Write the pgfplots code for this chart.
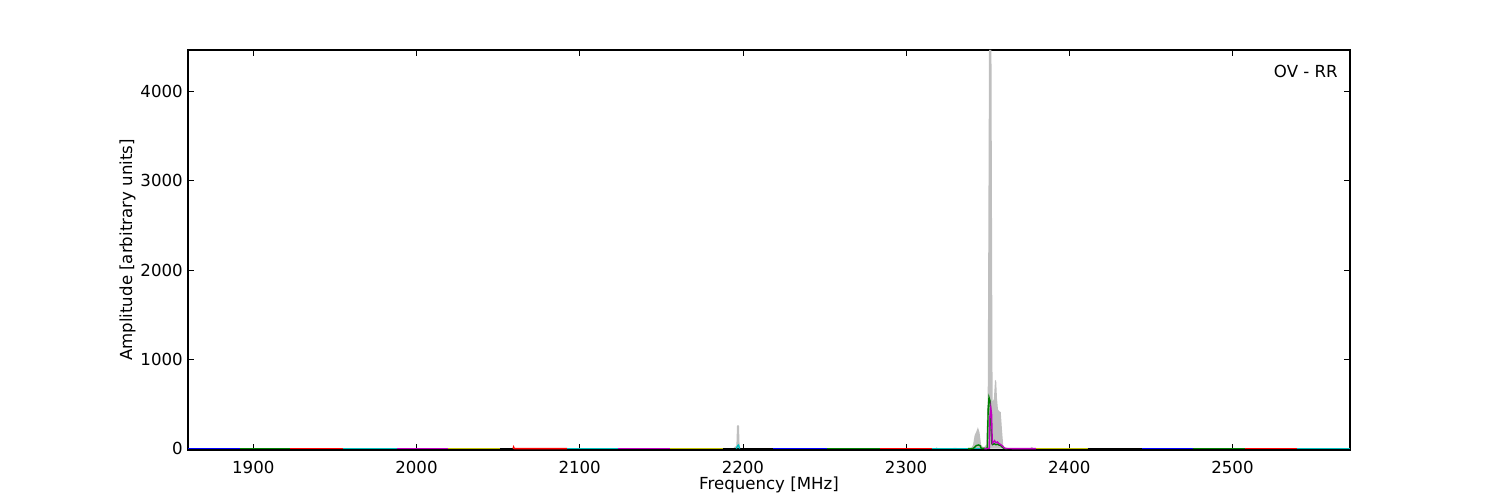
\documentclass[border=0pt]{standalone}
\usepackage{fontspec}
\setmainfont{DejaVu Sans}
\usepackage{pgfplots}
\pgfplotsset{compat=1.18}
\definecolor{mb}{rgb}{0,0,1}
\definecolor{mg}{rgb}{0,0.5,0}
\definecolor{mr}{rgb}{1,0,0}
\definecolor{mc}{rgb}{0,0.75,0.75}
\definecolor{mm}{rgb}{0.75,0,0.75}
\definecolor{my}{rgb}{0.75,0.75,0}
\definecolor{mk}{rgb}{0,0,0}
\definecolor{fillgrey}{rgb}{0.75,0.75,0.75}
\begin{document}
\begin{tikzpicture}[font=\fontsize{12}{14.4}\selectfont]
\path[use as bounding box] (0,0) rectangle (15in,5in);
\begin{axis}[
  at={(1.88in,0.5in)}, anchor=south west,
  scale only axis, width=11.62in, height=4.0in,
  xmin=1860, xmax=2572, ymin=-15, ymax=4465,
  xtick={1900,2000,2100,2200,2300,2400,2500},
  ytick={0,1000,2000,3000,4000},
  /pgf/number format/1000 sep={},
  /pgf/number format/assume math mode=true,
  tick align=inside,
  major tick length=4pt,
  every tick/.style={black, line width=0.5pt},
  axis line style={line width=1pt},
  xticklabel style={anchor=north, inner sep=0pt, yshift=-0.11in},
  yticklabel style={anchor=east, inner sep=0pt, xshift=-0.05in},
  every axis x label/.style={at={(axis description cs:0.5,0)}, anchor=base, inner sep=0pt, yshift=-0.395in},
  every axis y label/.style={at={(axis description cs:0,0.5)}, xshift=-0.56in, rotate=90, anchor=base, inner sep=0pt},
  xlabel={Frequency [MHz]},
  ylabel={Amplitude [arbitrary units]},
  clip=true,
]
% grey envelope
\addplot[fill=fillgrey, draw=none] coordinates {
(1860,0) (2150,0) (2194,0) (2195,20) (2196,30) (2196.4,260) (2197.6,260) (2198,20) (2199,0)
(2318,0) (2318.7,15) (2319.5,3) (2325,5) (2330,8) (2335,5) (2339,5) (2340,10) (2341,40)
(2342,150) (2343,190) (2344,240) (2345,180) (2346,40) (2347,20) (2348,20) (2349,40)
(2350,550) (2350.8,4465) (2352.3,4465) (2353,520) (2353.8,560) (2354.5,770) (2355.2,760)
(2355.7,560) (2356.3,440) (2357,420) (2358,410) (2358.8,200) (2359.5,40) (2360.5,10)
(2362,3) (2370,2) (2376,5) (2377,20) (2378,5) (2380,0) (2572,0)} \closedcycle;
% band baselines
\addplot[mb, line width=1pt] coordinates {(1860.2,0) (1892.0,0)};
\addplot[mg, line width=1pt] coordinates {(1892.0,0) (1922.7,0)};
\addplot[mr, line width=1pt] coordinates {(1922.7,0) (1955.1,0)};
\addplot[mc, line width=1pt] coordinates {(1955.1,0) (1988.2,0)};
\addplot[mm, line width=1pt] coordinates {(1988.2,0) (2019.4,0)};
\addplot[my, line width=1pt] coordinates {(2019.4,0) (2051.3,0)};
\addplot[mk, line width=1pt] coordinates {(2051.3,0) (2059.2,0)};
\addplot[mr, line width=1pt] coordinates {(2059.2,0) (2059.5,18) (2059.9,1) (2092.3,0)};
\addplot[mc, line width=1pt] coordinates {(2092.3,0) (2123.5,0)};
\addplot[mm, line width=1pt] coordinates {(2123.5,0) (2155.4,0)};
\addplot[my, line width=1pt] coordinates {(2155.4,0) (2187.8,0)};
\addplot[mk, line width=1pt] coordinates {(2187.8,0) (2218.4,0)};
\addplot[mb, line width=1pt] coordinates {(2218.4,0) (2251.5,0)};
\addplot[mg, line width=1pt] coordinates {(2251.5,0) (2284.0,0)};
\addplot[mr, line width=1pt] coordinates {(2284.0,0) (2315.8,0)};
\addplot[mc, line width=1pt] coordinates {(2315.8,0) (2348,0)};
\addplot[my, line width=1pt] coordinates {(2379.5,0) (2411.3,0)};
\addplot[mk, line width=1pt] coordinates {(2411.3,0) (2444.4,0)};
\addplot[mb, line width=1pt] coordinates {(2444.4,0) (2475.6,0)};
\addplot[mg, line width=1pt] coordinates {(2475.6,0) (2507.5,0)};
\addplot[mr, line width=1pt] coordinates {(2507.5,0) (2539.3,0)};
\addplot[mc, line width=1pt] coordinates {(2539.3,0) (2571.8,0)};
% cyan spike near 2197
\addplot[mc, line width=1pt] coordinates {(2196,0) (2196.8,35) (2197.3,40) (2198,0)};
% green line in the peak region
\addplot[mg, line width=1pt] coordinates {
(2338,0) (2341,2) (2342,15) (2343,35) (2344.5,42) (2345.5,30) (2346,4) (2349,2)
(2349.8,10) (2350.3,450) (2350.8,575) (2351.5,530) (2352,250) (2352.5,60) (2353,45)
(2354,55) (2355,45) (2356,50) (2357,40) (2358,35) (2359,15) (2360,2) (2362,0)};
% magenta band with peak
\addplot[mm, line width=1pt] coordinates {
(2348,0) (2350.5,2) (2351,5) (2351.3,350) (2351.9,460) (2352.4,380) (2352.8,60)
(2353.5,75) (2354.2,90) (2355,65) (2356,75) (2357,55) (2358,45) (2359,30) (2360,10)
(2361,2) (2370,0) (2379.5,0)};
\node[anchor=north east, inner sep=0pt, xshift=-0.12in, yshift=-0.15in] at (rel axis cs:1,1) {OV - RR};
\end{axis}
\end{tikzpicture}
\end{document}
